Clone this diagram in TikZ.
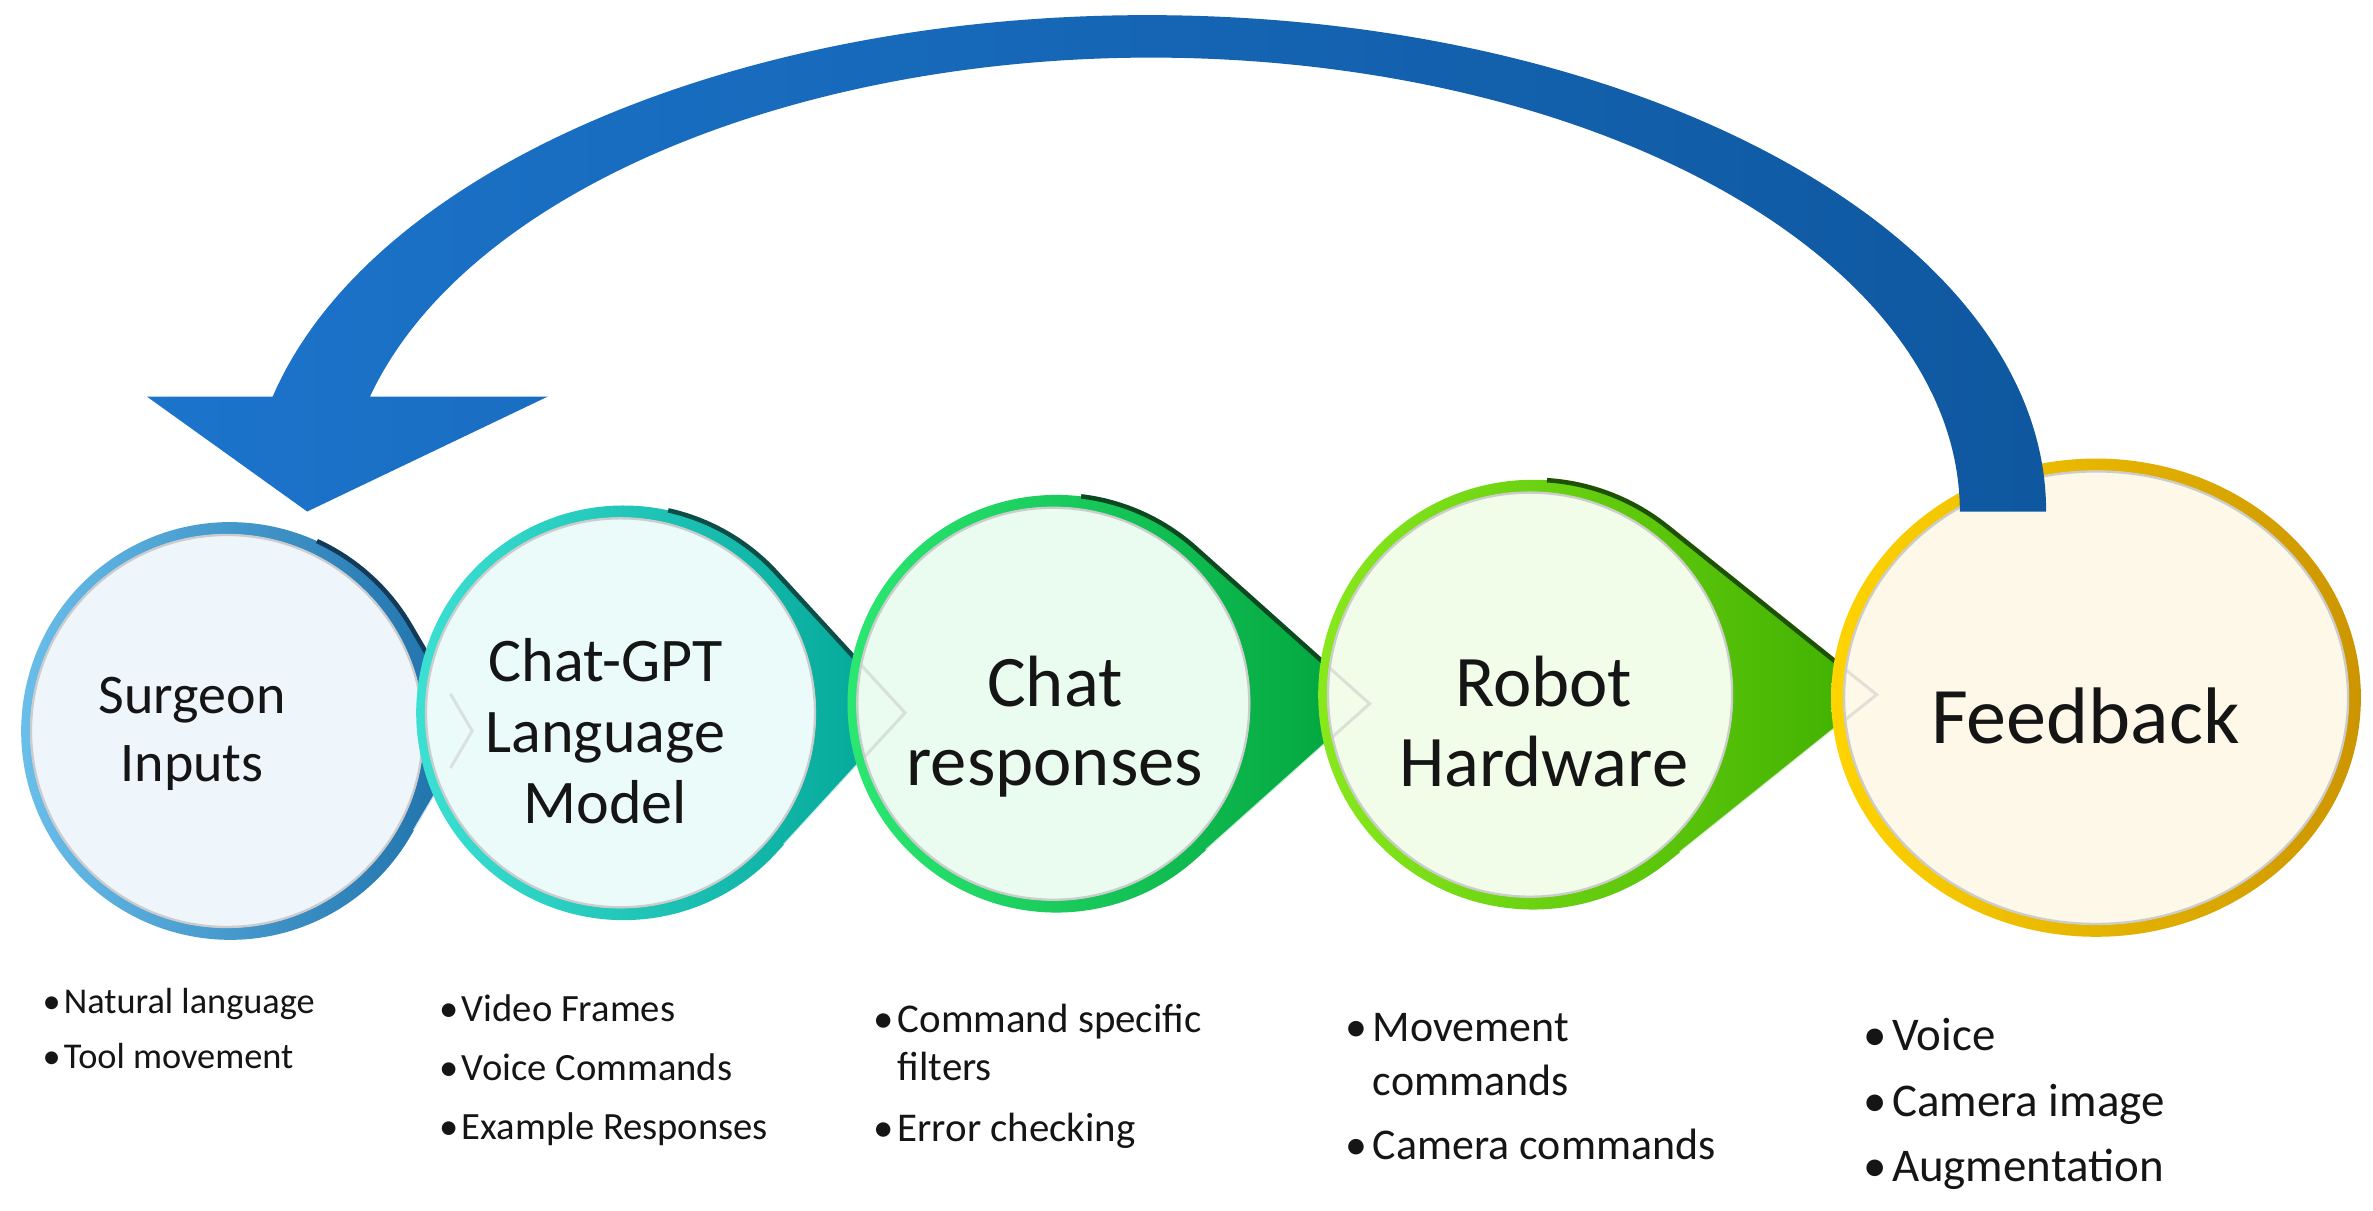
\documentclass[tikz,border=0pt]{standalone}
\usepackage{fontspec}
\setmainfont{Carlito}
\usetikzlibrary{calc}
\definecolor{arrL}{HTML}{1C74CB}
\definecolor{arrR}{HTML}{0F58A0}
\definecolor{txt}{HTML}{151515}
\definecolor{aL}{HTML}{6EC3EE}\definecolor{aD}{HTML}{1B6EA8}\definecolor{aE}{HTML}{143A5A}\definecolor{aF}{HTML}{EEF6FC}
\definecolor{bL}{HTML}{3FE3D6}\definecolor{bD}{HTML}{00A596}\definecolor{bE}{HTML}{0B4D47}\definecolor{bF}{HTML}{EAFBFA}
\definecolor{cL}{HTML}{2DEB74}\definecolor{cD}{HTML}{00A23D}\definecolor{cE}{HTML}{0B4A20}\definecolor{cF}{HTML}{EAFBEF}
\definecolor{dL}{HTML}{8CEB1E}\definecolor{dD}{HTML}{3EAF00}\definecolor{dE}{HTML}{1F5200}\definecolor{dF}{HTML}{F1FCE9}
\definecolor{eL}{HTML}{FFD400}\definecolor{eD}{HTML}{CC9500}\definecolor{eF}{HTML}{FDF8E7}
% teardrop: #1 cx, #2 cy, #3 R, #4 tip x, #5 light, #6 dark, #7 edge, #8 fill, #9 name
\newcommand\tdrop[9]{%
  \pgfmathsetmacro\tdA{acos(#3/(#4-#1))}%
  \coordinate (#9-c) at (#1,#2);
  \coordinate (#9-t) at (#4,#2);
  \coordinate (#9-u) at ($(#9-c)+(-\tdA:#3)$);
  \coordinate (#9-l) at ($(#9-c)+(\tdA:#3)$);
  \coordinate (#9-i) at ($(#9-c)+(-2,0)$);
  \shade[left color=#5, right color=#6]
    (#9-t) -- (#9-u) arc[start angle=-\tdA, end angle=-360+\tdA, radius=#3] -- cycle;
  \draw[#7, line width=3]
    ($(#9-c)+(-\tdA-35:#3)$) arc[start angle=-\tdA-35, end angle=-\tdA, radius=#3] -- (#9-t);
  \draw[white, opacity=.75, line width=1.3] ($(#9-l)!.06!(#9-t)$) -- ($(#9-l)!.9!(#9-t)$);
  \fill[#8] (#9-i) circle[radius=#3-8];
  \draw[black!20, line width=1.5] (#9-i) circle[radius=#3-8.5];
}
% faint chevron of tip #1 seen through the next circle #2 (inner radius #3)
\newcommand\chev[3]{%
  \begin{scope}
  \clip (#2-i) circle[radius=#3];
  \draw[white!78!black, opacity=.5, line width=2]
    ($(#1-t)!.35!(#1-u)$) -- (#1-t) -- ($(#1-t)!.35!(#1-l)$);
  \end{scope}
}
\begin{document}
\begin{tikzpicture}[x=1pt,y=-1pt,
  lab/.style={align=center, text=txt, inner sep=0},
  bl/.style={anchor=base west, inner sep=0, text=txt}]
\useasboundingbox (0,0) rectangle (1568,800);
\fill[white] (0,0) rectangle (1568,800);

% circles (teardrops), left to right
\tdrop{152}{483}{138}{312}{aL}{aD}{aE}{aF}{c1}
\tdrop{412}{471}{137}{598}{bL}{bD}{bE}{bF}{c2}
\chev{c1}{c2}{128}
\tdrop{698}{465}{138}{905}{cL}{cD}{cE}{cF}{c3}
\chev{c2}{c3}{129}
\tdrop{1013}{459}{142}{1240}{dL}{dD}{dE}{dF}{c4}
\chev{c3}{c4}{133}
% feedback ellipse
\coordinate (c5-c) at (1385,461);
\coordinate (c5-i) at (1385,461);
\shade[left color=eL, right color=eD]
  (c5-c) ellipse[x radius=175, y radius=158];
\fill[eF] (c5-c) ellipse[x radius=167, y radius=150];
\draw[black!20, line width=1.5] (c5-c) ellipse[x radius=166.5, y radius=149.5];
\begin{scope}
\clip (c5-c) ellipse[x radius=166, y radius=149];
\draw[white!78!black, opacity=.5, line width=2]
  ($(c4-t)!.35!(c4-u)$) -- (c4-t) -- ($(c4-t)!.35!(c4-l)$);
\end{scope}

% circle labels
\node[lab, font=\fontsize{37}{45}\selectfont] (t1) at (127,485) {Surgeon\\Inputs};
\node[lab, font=\fontsize{41}{47}\selectfont] (t2) at (400,483) {Chat-GPT\\Language\\Model};
\node[lab, font=\fontsize{48}{52}\selectfont] (t3) at (697,480) {Chat\\responses};
\node[lab, font=\fontsize{48}{53}\selectfont] (t4) at (1020,477) {Robot\\Hardware};
\node[lab, font=\fontsize{53}{60}\selectfont] (t5) at (1378,473) {Feedback};

% bullet lists
\begin{scope}[every node/.style={bl, font=\fontsize{24}{28}\selectfont}]
\node (b1a) at (28,670) {•}; \node (l1a) at (42,670) {Natural language};
\node (b1b) at (28,706) {•}; \node (l1b) at (42,706) {Tool movement};
\end{scope}
\begin{scope}[every node/.style={bl, font=\fontsize{25.5}{30}\selectfont}]
\node (b2a) at (290,675) {•}; \node (l2a) at (305,675) {Video Frames};
\node (b2b) at (290,714) {•}; \node (l2b) at (305,714) {Voice Commands};
\node (b2c) at (290,753) {•}; \node (l2c) at (305,753) {Example Responses};
\end{scope}
\begin{scope}[every node/.style={bl, font=\fontsize{27}{32}\selectfont}]
\node (b3a) at (577,682) {•}; \node (l3a) at (593,682) {Command specific};
\node (l3b) at (593,714) {filters};
\node (b3c) at (577,754) {•}; \node (l3c) at (593,754) {Error checking};
\end{scope}
\begin{scope}[every node/.style={bl, font=\fontsize{29}{34}\selectfont}]
\node (b4a) at (889,688) {•}; \node (l4a) at (907,688) {Movement};
\node (l4b) at (907,724) {commands};
\node (b4c) at (889,766) {•}; \node (l4c) at (907,766) {Camera commands};
\end{scope}
\begin{scope}[every node/.style={bl, font=\fontsize{31}{36}\selectfont}]
\node (b5a) at (1231,694) {•}; \node (l5a) at (1250,694) {Voice};
\node (b5b) at (1231,738) {•}; \node (l5b) at (1250,738) {Camera image};
\node (b5c) at (1231,781) {•}; \node (l5c) at (1250,781) {Augmentation};
\end{scope}

% big curved feedback arrow
\shade[left color=arrL, right color=arrR]
  (1295,338) -- (1352,338)
  arc[start angle=0, end angle=-166.6, x radius=594, y radius=328]
  -- (97,262) -- (203,338) -- (362,262) -- (244.5,262)
  arc[start angle=-165.3, end angle=0, x radius=534, y radius=300]
  -- cycle;
\end{tikzpicture}
\end{document}
